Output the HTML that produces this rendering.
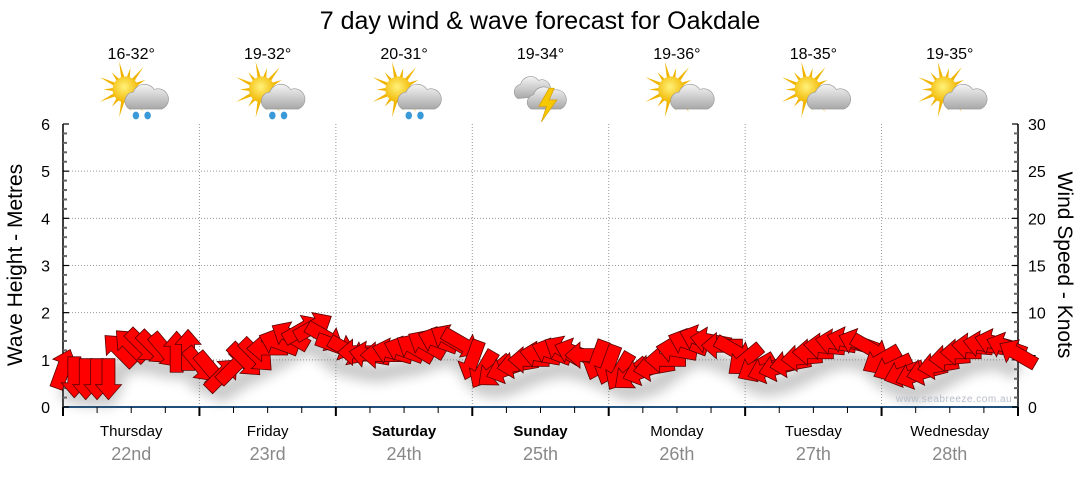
<!DOCTYPE html>
<html><head><meta charset="utf-8"><style>
body{margin:0;background:#fff;width:1080px;height:475px;overflow:hidden;font-family:"Liberation Sans","DejaVu Sans",sans-serif}
</style></head><body>
<svg id="c" width="1080" height="475" viewBox="0 0 1080 475" xmlns="http://www.w3.org/2000/svg">
<defs>
<filter id="blur" x="-50%" y="-50%" width="200%" height="200%"><feGaussianBlur stdDeviation="6"/></filter>
<radialGradient id="sun" cx="45%" cy="40%" r="60%"><stop offset="0" stop-color="#fff27a"/><stop offset="1" stop-color="#f2b600"/></radialGradient>
<linearGradient id="cloud" x1="0" y1="0" x2="0" y2="1"><stop offset="0" stop-color="#f4f4f4"/><stop offset="1" stop-color="#a8a8a8"/></linearGradient>
</defs>
<text x="540" y="29" text-anchor="middle" font-size="25" fill="#000">7 day wind &amp; wave forecast for Oakdale</text>
<g id="grid"></g>
<g id="axes"></g>
<g id="shadow" filter="url(#blur)" opacity="0.35"></g>
<g id="arrows"></g>
<g id="days"></g>
<g id="icons"></g>
<text x="954" y="402" text-anchor="middle" font-size="10" fill="#b8bcc8" letter-spacing="0.5">www.seabreeze.com.au</text>
<text transform="translate(22,265) rotate(-90)" text-anchor="middle" font-size="21" fill="#000">Wave Height - Metres</text>
<text transform="translate(1058,265) rotate(90)" text-anchor="middle" font-size="21" fill="#000">Wind Speed - Knots</text>
</svg>
<script>
const dayNames=["Thursday","Friday","Saturday","Sunday","Monday","Tuesday","Wednesday"];
const dayDates=["22nd","23rd","24th","25th","26th","27th","28th"];
const temps=["16-32°","19-32°","20-31°","19-34°","19-36°","18-35°","19-35°"];
const iconTypes=["rain","rain","rain","storm","cloud","cloud","cloud"];
const waveTicks=[0,1,2,3,4,5,6];
const windTicks=[0,5,10,15,20,25,30];
const windSpeed=[4.0,3.2,3.0,3.0,3.0,6.0,6.5,6.5,6.3,6.0,5.8,6.0,
4.5,4.0,3.4,4.2,5.0,5.5,6.2,6.8,7.5,8.2,8.5,7.5,
6.5,6.0,5.8,5.5,5.5,5.8,6.0,6.2,6.6,7.0,7.2,6.8,
5.0,4.0,3.8,4.0,4.5,5.0,5.5,5.8,6.0,5.8,5.5,5.0,
4.5,3.8,3.5,3.8,4.2,5.0,6.0,6.8,7.2,7.0,6.5,6.0,
5.0,4.2,4.0,4.2,4.6,5.2,5.8,6.4,6.8,7.0,6.8,6.2,
5.0,4.2,3.6,3.4,3.8,4.4,5.2,5.8,6.4,6.6,6.8,6.4,5.6];
const windDir=[20,180,180,180,180,315,315,135,135,140,0,0,
140,140,45,45,135,135,270,290,300,60,60,120,
110,120,270,280,270,285,290,300,300,290,300,120,
200,210,230,250,260,270,280,290,300,290,270,200,
200,210,230,250,260,270,280,290,290,280,270,120,
230,240,250,255,260,265,270,275,280,285,290,120,
240,245,250,250,255,260,265,270,275,280,285,290,300];

const NS="http://www.w3.org/2000/svg";
const X0=63,X1=1018,Y0=407,Y1=124;
const nDays=7,stepsPerDay=12;
const xDay=d=>X0+(X1-X0)*d/nDays;
const xStep=i=>xDay(i/stepsPerDay);
const yWave=m=>Y0-(Y0-Y1)*m/6;
const yWind=k=>Y0-(Y0-Y1)*k/30;
function mk(tag,attrs,parent){const e=document.createElementNS(NS,tag);for(const k in attrs)e.setAttribute(k,attrs[k]);parent.appendChild(e);return e;}
const grid=document.getElementById('grid'),axes=document.getElementById('axes');
waveTicks.forEach(t=>{if(t>0&&t<6){const l=mk('line',{x1:X0,x2:X1,y1:yWave(t),y2:yWave(t),stroke:'#999','stroke-dasharray':'1,2'},grid);}});
for(let d=1;d<nDays;d++){const l=mk('line',{x1:xDay(d),x2:xDay(d),y1:Y1,y2:Y0,stroke:'#999','stroke-dasharray':'1,2'},grid);}
mk('line',{x1:X0,x2:X0,y1:Y1,y2:Y0,stroke:'#000','stroke-width':1.5},axes);
mk('line',{x1:X1,x2:X1,y1:Y1,y2:Y0,stroke:'#000','stroke-width':1.5},axes);
mk('line',{x1:X0,x2:X1,y1:Y0,y2:Y0,stroke:'#1f4f7a','stroke-width':2},axes);
for(let v=0;v<=30;v++){const y=yWind(v);const maj=v%5==0;
mk('line',{x1:X0,x2:X0+(maj?6:4),y1:y,y2:y,stroke:maj?'#000':'#666','stroke-width':maj?1.2:2},axes);
mk('line',{x1:X1-(maj?6:4),x2:X1,y1:y,y2:y,stroke:maj?'#000':'#666','stroke-width':maj?1.2:2},axes);}
waveTicks.forEach(t=>{const e=mk('text',{x:50,y:yWave(t)+6,'text-anchor':'end','font-size':16,fill:'#000'},axes);e.textContent=t;});
windTicks.forEach(t=>{const e=mk('text',{x:1028,y:yWind(t)+6,'text-anchor':'start','font-size':16,fill:'#000'},axes);e.textContent=t;});
for(let q=0;q<=nDays*4;q++){const x=xDay(q/4);const maj=q%4==0;mk('line',{x1:x,x2:x,y1:Y0,y2:Y0+(maj?9:6),stroke:'#000','stroke-width':maj?2:1},axes);}
const days=document.getElementById('days');
dayNames.forEach((n,d)=>{const cx=(xDay(d)+xDay(d+1))/2;const bold=(n=="Saturday"||n=="Sunday");
const a=mk('text',{x:cx,y:436,'text-anchor':'middle','font-size':15,fill:'#000','font-weight':bold?'bold':'normal'},days);a.textContent=n;
const b=mk('text',{x:cx,y:460,'text-anchor':'middle','font-size':18,fill:'#888'},days);b.textContent=dayDates[d];});
// shadow
const sh=document.getElementById('shadow');
let pts=windSpeed.map((v,i)=>xStep(i)+','+(yWind(v)+18)).join(' ');
mk('polyline',{points:pts,fill:'none',stroke:'#666','stroke-width':18},sh);
// arrows
const ag=document.getElementById('arrows');
const arrowPath="M0,-21 L13,-6 L6.5,-6 L6.5,20 L-6.5,20 L-6.5,-6 L-13,-6 Z";
windSpeed.forEach((v,i)=>{const p=mk('path',{d:arrowPath,fill:'#ff0000',stroke:'#5a0000','stroke-width':0.8,transform:`translate(${xStep(i)},${yWind(v)}) rotate(${windDir[i]})`},ag);

});
// icons
const ig=document.getElementById('icons');
function icon(type,cx,cy){const g=mk('g',{transform:`translate(${cx},${cy}) scale(1.3)`},ig);
if(type!="storm"){for(let r=0;r<14;r++){const a=r*Math.PI*2/14;const L=r%2?17:22;
mk('polygon',{points:`${-9+Math.cos(a-0.18)*8},${-5+Math.sin(a-0.18)*8} ${-9+Math.cos(a)*L},${-5+Math.sin(a)*L} ${-9+Math.cos(a+0.18)*8},${-5+Math.sin(a+0.18)*8}`,fill:'#f0b400'},g);}
mk('circle',{cx:-9,cy:-5,r:10,fill:'url(#sun)'},g);
mk('path',{d:"M-6,10 a7,7 0 0 1 3,-13 a9,9 0 0 1 16,-2 a7,7 0 0 1 6,15 Z",fill:'url(#cloud)',stroke:'#999','stroke-width':0.5},g);
if(type=="rain"){mk('ellipse',{cx:-1,cy:15,rx:2.5,ry:3,fill:'#3a9ad8'},g);mk('ellipse',{cx:8,cy:15,rx:2.5,ry:3,fill:'#3a9ad8'},g);}}
else{mk('path',{d:"M-22,2 a6,6 0 0 1 2,-11 a8,8 0 0 1 14,-3 a6,6 0 0 1 5,12 Z",fill:'url(#cloud)',stroke:'#999','stroke-width':0.5},g);
mk('path',{d:"M-12,10 a6,6 0 0 1 2,-11 a8,8 0 0 1 14,-3 a7,7 0 0 1 7,14 Z",fill:'url(#cloud)',stroke:'#999','stroke-width':0.5},g);
mk('polygon',{points:"2,-6 -6,8 0,8 -4,20 8,3 2,3 6,-6",fill:'#f5c800',stroke:'#d99a00','stroke-width':0.5},g);}
return g;}
temps.forEach((t,d)=>{const cx=(xDay(d)+xDay(d+1))/2;
const e=mk('text',{x:cx,y:59,'text-anchor':'middle','font-size':16,fill:'#000'},ig);e.textContent=t;
const g=icon(iconTypes[d],cx+6,96);});
</script>
</body></html>
